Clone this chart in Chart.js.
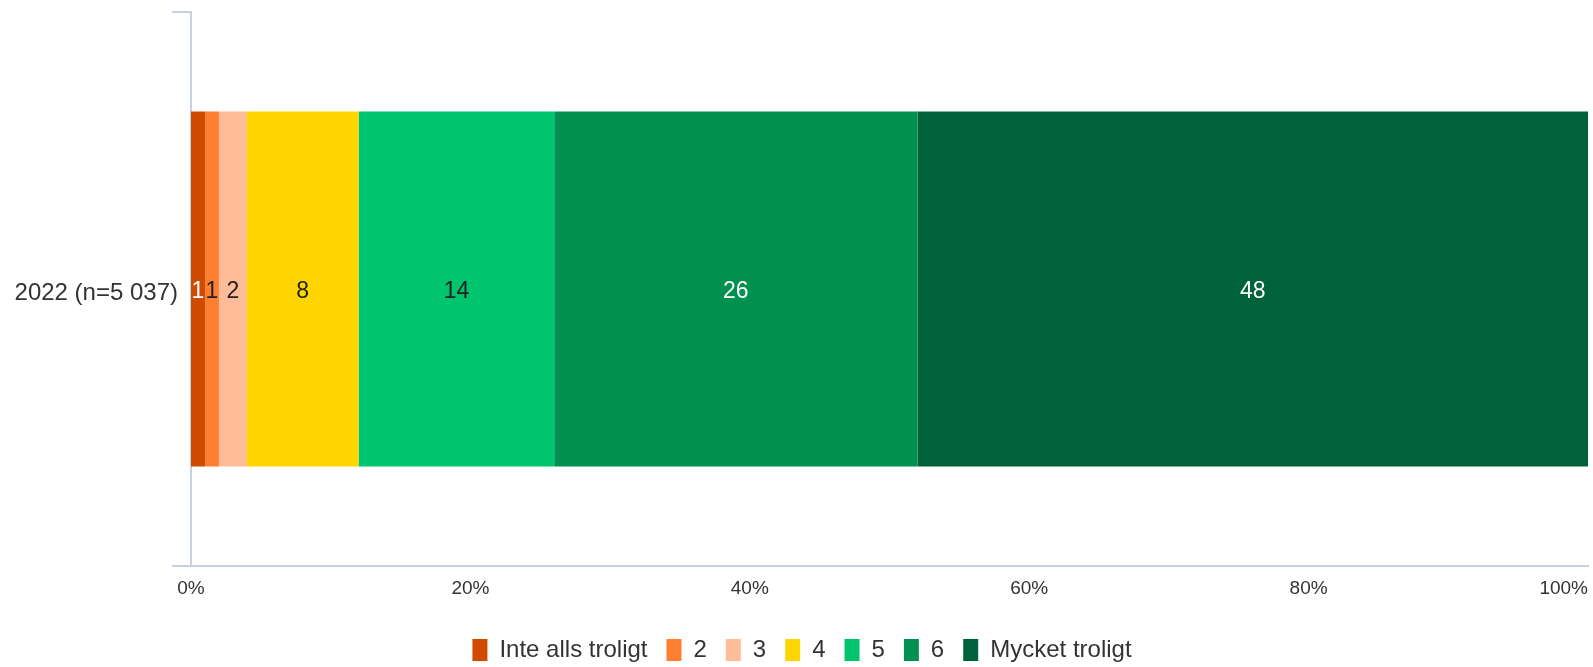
<!DOCTYPE html>
<html lang="sv">
<head>
<meta charset="utf-8">
<title>Hur troligt</title>
<script src="https://cdn.jsdelivr.net/npm/chart.js@4.4.1/dist/chart.umd.min.js"></script>
<style>
  html, body { margin: 0; padding: 0; background: #fff; }
  #wrap { width: 1593px; height: 667px; position: relative; }
</style>
</head>
<body>
<div id="wrap"><canvas id="stackChart"></canvas></div>
<script>
// categories, series and values
var categories = ['2022 (n=5 037)'];
var seriesNames = ['Inte alls troligt', '2', '3', '4', '5', '6', 'Mycket troligt'];
var seriesValues = [[1], [1], [2], [8], [14], [26], [48]];
var seriesColors = ['#d04a02', '#ff7f32', '#ffbc99', '#ffd500', '#00c46e', '#009150', '#00623a'];
var labelColors = ['#ffffff', '#222222', '#222222', '#222222', '#222222', '#ffffff', '#ffffff'];
var xTickValues = [0, 20, 40, 60, 80, 100];

var axisColor = '#c6d2e4';
var textColor = '#333333';
var fontFamily = '"Liberation Sans", Arial, Helvetica, sans-serif';

var datasets = seriesNames.map(function (name, i) {
  return {
    label          : name,
    data           : seriesValues[i],
    backgroundColor: seriesColors[i],
    borderWidth    : 0,
    categoryPercentage: 1,
    barPercentage  : 0.641
  };
});

// value labels in the middle of each segment
var segmentLabels = {
  id: 'segmentLabels',
  afterDatasetsDraw: function (chart) {
    var ctx = chart.ctx;
    ctx.save();
    ctx.font = '23px ' + fontFamily;
    ctx.textAlign = 'center';
    ctx.textBaseline = 'middle';
    chart.data.datasets.forEach(function (ds, i) {
      var meta = chart.getDatasetMeta(i);
      meta.data.forEach(function (bar, j) {
        var cx = (bar.x + bar.base) / 2;
        ctx.fillStyle = labelColors[i];
        ctx.fillText(String(ds.data[j]), cx, bar.y + 3);
      });
    });
    ctx.restore();
  }
};

// percent labels under the value axis, last one kept inside the canvas
var percentTicks = {
  id: 'percentTicks',
  afterDraw: function (chart) {
    var ctx = chart.ctx;
    var scale = chart.scales.x;
    ctx.save();
    ctx.font = '19px ' + fontFamily;
    ctx.fillStyle = textColor;
    ctx.textBaseline = 'middle';
    ctx.textAlign = 'left';
    xTickValues.forEach(function (v) {
      var px = scale.getPixelForValue(v);
      var txt = v + '%';
      var w = ctx.measureText(txt).width;
      var left = Math.min(px - w / 2, chart.width - 5 - w);
      ctx.fillText(txt, left, scale.top + 23);
    });
    ctx.restore();
  }
};

// nudge the legend row a little to the right
var legendShift = {
  id: 'legendShift',
  afterLayout: function (chart) {
    if (chart.legend) {
      chart.legend.left += 8;
      chart.legend.right += 8;
    }
  }
};

var stackChart = new Chart(document.getElementById('stackChart').getContext('2d'), {
  type: 'bar',
  data: { labels: categories, datasets: datasets },
  plugins: [segmentLabels, percentTicks, legendShift],
  options: {
    indexAxis: 'y',
    responsive: true,
    maintainAspectRatio: false,
    animation: false,
    layout: { padding: { top: 12, right: 5, left: 0, bottom: -5 } },
    scales: {
      x: {
        stacked: true,
        min: 0,
        max: 100,
        afterBuildTicks: function (s) {
          s.ticks = xTickValues.map(function (v) { return { value: v }; });
        },
        ticks: { display: false },
        grid: { display: false },
        border: { display: true, color: axisColor, width: 2 },
        afterFit: function (s) { s.height = 53; s.paddingLeft = 0; s.paddingRight = 0; }
      },
      y: {
        stacked: true,
        ticks: {
          color: textColor,
          padding: -6,
          labelOffset: 4,
          font: { family: fontFamily, size: 24 }
        },
        grid: {
          offset: true,
          drawOnChartArea: false,
          drawTicks: true,
          tickLength: 19,
          color: axisColor,
          lineWidth: 2
        },
        border: { display: true, color: axisColor, width: 2 },
        afterFit: function (s) { s.width = 191; s.paddingTop = 0; s.paddingBottom = 0; }
      }
    },
    plugins: {
      tooltip: { enabled: false },
      legend: {
        position: 'bottom',
        labels: {
          color: textColor,
          boxWidth: 15,
          boxHeight: 22,
          padding: 19,
          font: { family: fontFamily, size: 24 }
        }
      }
    }
  }
});
</script>
</body>
</html>
